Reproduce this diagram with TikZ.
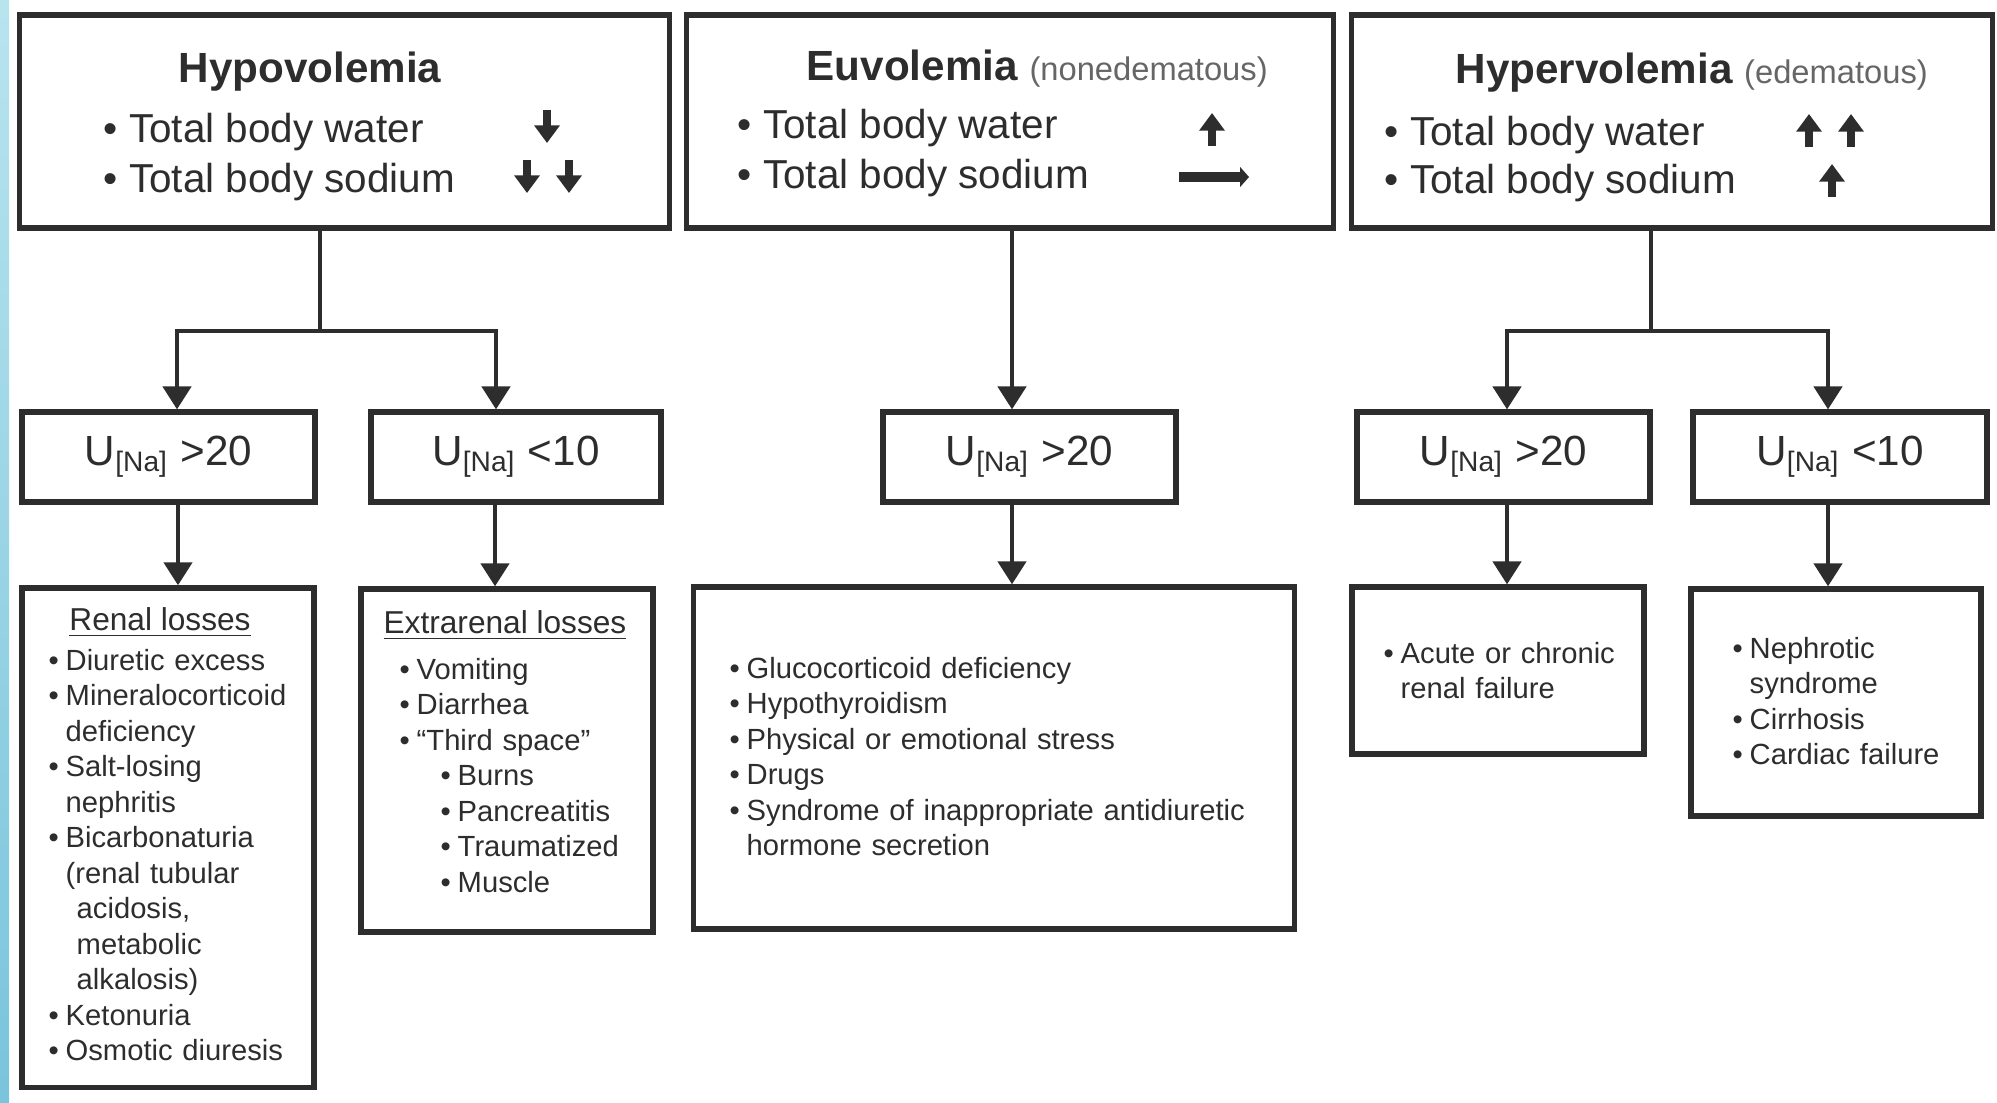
\documentclass[tikz,border=0pt]{standalone}
\usepackage{fontspec}
\setmainfont{Liberation Sans}
\usetikzlibrary{arrows.meta,calc}
\definecolor{stripetop}{RGB}{184,228,238}
\definecolor{stripebot}{RGB}{122,196,220}
\definecolor{ink}{RGB}{45,45,45}
\newlength\bind
\setlength\bind{0.17cm}
\newcommand\bl{\makebox[\bind][l]{\textbullet}}
\newcommand\ci{\hspace*{\bind}}
\newcommand\subtxt[1]{{\mdseries\fontsize{9.3}{11}\selectfont\color{black!60}#1}}
\begin{document}
\begin{tikzpicture}[x=0.01cm,y=-0.01cm,
  box/.style={draw=ink, line width=1.5pt, fill=white, inner sep=0pt, anchor=center},
  ubox/.style={box, font=\fontsize{12}{14}\selectfont, text=ink},
  ttl/.style={font=\bfseries\fontsize{12}{14}\selectfont, text=ink, inner sep=0pt, anchor=base west},
  bigtxt/.style={font=\fontsize{11.5}{14}\selectfont, text=ink, inner sep=0pt, anchor=base west},
  lst/.style={font=\fontsize{8.3}{10.1}\selectfont, text=ink, inner sep=0pt, anchor=base west, align=left, text width=#1},
  sttl/.style={font=\fontsize{9}{11}\selectfont, text=ink, inner sep=0pt, anchor=base},
  conn/.style={draw=ink, line width=1.1pt},
  arr/.style={conn, -{Triangle[width=8pt,length=6.5pt]}},
  glyph/.style={draw=ink, line width=2.4pt, -{Triangle[width=7pt,length=5pt]}},
  hglyph/.style={draw=ink, line width=3pt, -{Triangle[width=5.5pt,length=2.5pt]}}
]
\fill[white] (0,0) rectangle (1997,1102);
\useasboundingbox (0,0) rectangle (1997,1102);
\shade[top color=stripetop, bottom color=stripebot] (0,0) rectangle (9,1102);

% top row boxes
\node[box, minimum width=6.49cm, minimum height=2.13cm] (hypo) at (344.5,121.5) {};
\node[box, minimum width=6.46cm, minimum height=2.13cm] (eu) at (1010,121.5) {};
\node[box, minimum width=6.40cm, minimum height=2.13cm] (hyper) at (1672,121.5) {};

% hypovolemia text
\node[ttl] (hypoT) at (178,82) {Hypovolemia};
\node[bigtxt] (hypoW) at (103,142) {\textbullet\ Total body water};
\node[bigtxt] (hypoS) at (103,192) {\textbullet\ Total body sodium};
\draw[glyph] (547,110) -- (547,143);
\draw[glyph] (527,160) -- (527,193);
\draw[glyph] (569,160) -- (569,193);

% euvolemia text
\node[ttl] (euT) at (806,80) {Euvolemia \subtxt{(nonedematous)}};
\node[bigtxt] (euW) at (737,138) {\textbullet\ Total body water};
\node[bigtxt] (euS) at (737,188) {\textbullet\ Total body sodium};
\draw[glyph] (1212,146) -- (1212,113);
\draw[hglyph] (1179,177) -- (1249,177);

% hypervolemia text
\node[ttl] (hyT) at (1455,83) {Hypervolemia \subtxt{(edematous)}};
\node[bigtxt] (hyW) at (1384,145) {\textbullet\ Total body water};
\node[bigtxt] (hyS) at (1384,193) {\textbullet\ Total body sodium};
\draw[glyph] (1809,147) -- (1809,114);
\draw[glyph] (1851,147) -- (1851,114);
\draw[glyph] (1832,197) -- (1832,164);

% second row
\node[ubox, minimum width=2.93cm, minimum height=0.90cm] (ua) at (168.5,457) {U\textsubscript{[Na]} >20};
\node[ubox, minimum width=2.90cm, minimum height=0.90cm] (ub) at (516,457) {U\textsubscript{[Na]} <10};
\node[ubox, minimum width=2.93cm, minimum height=0.90cm] (uc) at (1029.5,457) {U\textsubscript{[Na]} >20};
\node[ubox, minimum width=2.93cm, minimum height=0.90cm] (ud) at (1503.5,457) {U\textsubscript{[Na]} >20};
\node[ubox, minimum width=2.94cm, minimum height=0.90cm] (ue) at (1840,457) {U\textsubscript{[Na]} <10};

% third row boxes
\node[box, minimum width=2.92cm, minimum height=4.99cm] (renal) at (168,837.5) {};
\node[box, minimum width=2.92cm, minimum height=3.43cm] (extra) at (507,760.5) {};
\node[box, minimum width=6.00cm, minimum height=3.42cm] (eul) at (994,758) {};
\node[box, minimum width=2.92cm, minimum height=1.67cm] (acute) at (1498,670.5) {};
\node[box, minimum width=2.90cm, minimum height=2.27cm] (neph) at (1836,702.5) {};

% third row text
\node[sttl] (renT) at (160,630) {\underline{Renal losses}};
\node[lst=2.6cm] (renL) at (48,670) {\bl Diuretic excess\\
\bl Mineralocorticoid\\
\ci deficiency\\
\bl Salt-losing\\
\ci nephritis\\
\bl Bicarbonaturia\\
\ci (renal tubular\\
\ci\hspace*{0.11cm}acidosis,\\
\ci\hspace*{0.11cm}metabolic\\
\ci\hspace*{0.11cm}alkalosis)\\
\bl Ketonuria\\
\bl Osmotic diuresis};

\node[sttl] (extT) at (505,633) {\underline{Extrarenal losses}};
\node[lst=2.5cm] (extL) at (399,679) {\bl Vomiting\\
\bl Diarrhea\\
\bl “Third space”\\
\hspace*{0.41cm}\bl Burns\\
\hspace*{0.41cm}\bl Pancreatitis\\
\hspace*{0.41cm}\bl Traumatized\\
\hspace*{0.41cm}\bl Muscle};

\node[lst=5.6cm] (euL) at (729,678) {\bl Glucocorticoid deficiency\\
\bl Hypothyroidism\\
\bl Physical or emotional stress\\
\bl Drugs\\
\bl Syndrome of inappropriate antidiuretic\\
\ci hormone secretion};

\node[lst=2.6cm] (acL) at (1383,663) {\bl Acute or chronic\\
\ci renal failure};

\node[lst=2.4cm] (nepL) at (1732,658) {\bl Nephrotic\\
\ci syndrome\\
\bl Cirrhosis\\
\bl Cardiac failure};

% connectors: top to second row
\coordinate (hj) at (320,331);
\coordinate (hl) at (177,331);
\coordinate (hr) at (496,331);
\draw[conn] (hypo.south -| hj) -- (hj);
\draw[arr] (hj) -- (hl) -- (hl |- ua.north);
\draw[arr] (hj) -- (hr) -- (hr |- ub.north);

\coordinate (ej) at (1012,331);
\draw[arr] (eu.south -| ej) -- (uc.north -| ej);

\coordinate (yj) at (1651,331);
\coordinate (yl) at (1507,331);
\coordinate (yr) at (1828,331);
\draw[conn] (hyper.south -| yj) -- (yj);
\draw[arr] (yj) -- (yl) -- (yl |- ud.north);
\draw[arr] (yj) -- (yr) -- (yr |- ue.north);

% connectors: second row to third row
\coordinate (a1) at (178,540);
\coordinate (a2) at (495,540);
\coordinate (a3) at (1012,540);
\coordinate (a4) at (1507,540);
\coordinate (a5) at (1828,540);
\draw[arr] (ua.south -| a1) -- (renal.north -| a1);
\draw[arr] (ub.south -| a2) -- (extra.north -| a2);
\draw[arr] (uc.south -| a3) -- (eul.north -| a3);
\draw[arr] (ud.south -| a4) -- (acute.north -| a4);
\draw[arr] (ue.south -| a5) -- (neph.north -| a5);
\end{tikzpicture}
\end{document}
